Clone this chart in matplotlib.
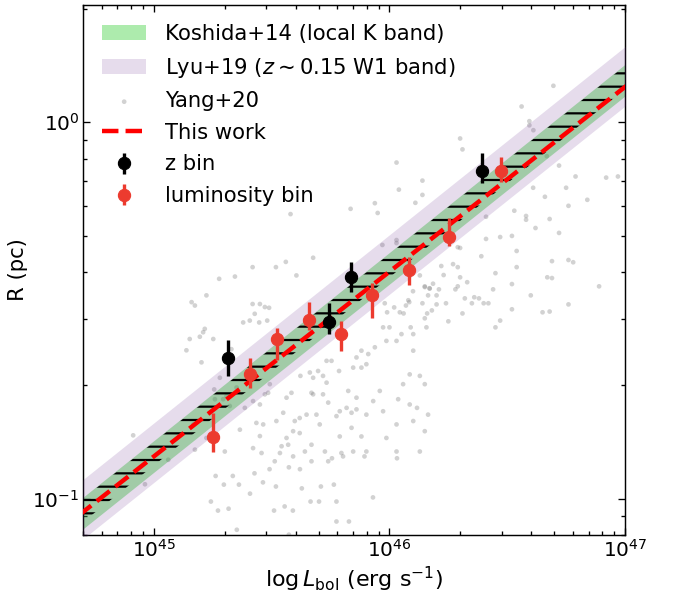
import matplotlib.pyplot as plt
import numpy as np

plt.rcParams['hatch.linewidth'] = 2.0
plt.rcParams['font.size'] = 18

# Yang+20 objects: log L_bol (erg/s), log R (pc)
yang_logL = [46.30, 46.31, 46.03, 46.14, 46.04, 46.14, 46.11, 45.97, 46.03, 46.03,
             46.97, 46.92, 46.79, 46.75, 46.61, 46.84, 46.66, 46.72, 46.53, 46.76,
             46.58, 46.58, 46.68, 46.41, 46.62, 46.72, 46.47, 46.52, 46.41, 46.54,
             46.29, 46.30, 46.39, 46.76, 46.78, 46.69, 46.54, 46.22, 46.27, 46.29,
             46.23, 46.30, 46.45, 46.67, 46.69, 46.33, 46.29, 46.52, 46.89, 46.28,
             46.10, 46.15, 46.17, 46.21, 46.60, 46.44, 46.36, 46.32, 46.35, 46.38,
             46.40, 46.42, 46.24, 46.20, 46.14, 46.08, 46.07, 46.02, 45.98, 45.99,
             46.18, 46.16, 46.15, 46.25, 46.31, 46.47, 46.45, 46.76, 46.68, 46.65,
             46.52, 46.06, 46.09, 46.00,
             45.676, 45.560, 45.605, 45.518, 45.419, 45.344, 45.277, 45.223, 45.160, 45.174,
             45.450, 45.419, 45.489, 45.428, 45.471, 45.379, 45.407, 45.447, 45.481, 45.216,
             45.209, 45.138, 45.152, 45.195, 45.202, 45.252, 45.329, 45.280, 45.256, 45.259,
             45.294, 45.308, 45.351, 45.322, 45.386, 45.421, 45.450, 45.471, 45.485, 45.492,
             45.435, 45.464, 45.520, 45.549, 45.563, 45.584, 45.598, 45.619, 45.648, 45.622,
             45.662, 45.676, 45.697, 45.718, 45.733, 45.754, 45.676, 45.718, 45.669, 45.786,
             45.846, 45.881, 45.902, 45.825, 45.860, 45.959, 46.037, 46.086, 46.117, 46.058,
             46.086, 46.129, 46.150, 46.101, 46.030, 46.051, 46.101, 46.157, 46.044, 46.084,
             46.164, 46.200, 46.150, 46.171, 46.129, 46.185, 45.973, 45.987, 45.938, 45.881,
             45.910, 45.860, 45.733, 45.740, 45.690, 45.775, 45.789, 45.818, 45.839, 45.860,
             45.902, 45.973, 45.931, 45.704, 45.619, 45.591, 45.563, 45.570, 45.542, 45.450,
             45.365, 45.421, 45.457, 45.513, 45.535, 45.591, 45.641, 45.669, 45.669, 45.726,
             45.789, 45.839, 45.881, 45.987, 46.030, 46.101, 46.150, 46.164, 46.129, 46.030,
             45.902, 45.846, 45.796, 45.740, 45.301, 45.266, 45.223, 45.174, 45.167,
             45.262, 45.335, 45.491, 45.573, 45.620, 45.756, 45.803, 45.894, 46.032, 45.297,
             45.361, 45.427, 45.463, 45.408, 45.518, 45.628, 45.709, 45.764, 45.665, 45.701,
             45.775, 45.930, 45.242, 45.272, 45.317, 45.510, 45.555, 45.590, 45.775, 45.828,
             45.352, 45.573,
             44.912, 44.962, 45.061, 46.696, 46.561, 46.594, 46.594, 46.611, 46.668,
             45.580, 45.835, 45.938, 45.950]
yang_logR = [-0.043, -0.072, -0.107, -0.155, -0.179, -0.193, -0.214, -0.326, -0.313, -0.321,
             -0.144, -0.147, -0.144, -0.174, -0.174, -0.206, -0.198, -0.115, -0.235, -0.222,
             -0.249, -0.259, -0.257, -0.251, -0.281, -0.294, -0.305, -0.302, -0.310, -0.342,
             -0.332, -0.334, -0.356, -0.366, -0.372, -0.369, -0.385, -0.382, -0.377, -0.385,
             -0.406, -0.412, -0.401, -0.412, -0.414, -0.425, -0.436, -0.430, -0.436, -0.444,
             -0.449, -0.436, -0.441, -0.444, -0.460, -0.444, -0.465, -0.468, -0.481, -0.468,
             -0.481, -0.481, -0.481, -0.484, -0.481, -0.473, -0.487, -0.492, -0.481, -0.505,
             -0.500, -0.508, -0.521, -0.529, -0.508, -0.527, -0.545, -0.484, -0.503, -0.505,
             -0.497, -0.508, -0.545, -0.545,
             -0.360, -0.371, -0.407, -0.385, -0.385, -0.410, -0.416, -0.460, -0.478, -0.487,
             -0.483, -0.483, -0.493, -0.509, -0.491, -0.532, -0.527, -0.532, -0.527, -0.549,
             -0.558, -0.606, -0.576, -0.570, -0.638, -0.576, -0.603, -0.679, -0.710, -0.736,
             -0.736, -0.728, -0.705, -0.754, -0.759, -0.741, -0.750, -0.723, -0.719, -0.696,
             -0.799, -0.803, -0.794, -0.772, -0.732, -0.719, -0.794, -0.786, -0.777, -0.674,
             -0.665, -0.679, -0.661, -0.674, -0.634, -0.634, -0.723, -0.723, -0.719, -0.661,
             -0.652, -0.652, -0.643, -0.714, -0.732, -0.714, -0.736, -0.750, -0.759, -0.696,
             -0.670, -0.674, -0.696, -0.607, -0.581, -0.563, -0.563, -0.545, -0.505, -0.478,
             -0.460, -0.460, -0.438, -0.442, -0.407, -0.429, -0.545, -0.581, -0.598, -0.607,
             -0.616, -0.625, -0.692, -0.745, -0.777, -0.781, -0.768, -0.759, -0.772, -0.763,
             -0.777, -0.768, -0.741, -0.803, -0.826, -0.821, -0.839, -0.857, -0.861, -0.834,
             -0.817, -0.866, -0.879, -0.901, -0.879, -0.888, -0.875, -0.857, -0.901, -0.875,
             -0.835, -0.812, -0.835, -0.839, -0.803, -0.794, -0.821, -0.777, -0.875, -0.875,
             -0.875, -0.875, -0.879, -0.901, -0.875, -0.839, -0.839, -0.870, -0.803,
             -0.940, -0.940, -0.922, -0.917, -0.922, -0.893, -0.888, -0.888, -0.893, -0.963,
             -0.963, -0.933, -0.957, -0.987, -0.968, -0.973, -0.968, -0.963, -1.008, -1.008,
             -1.008, -0.997, -1.008, -1.032, -1.027, -1.032, -1.021, -1.032, -1.061, -1.061,
             -1.083, -1.096,
             -0.832, -0.962, -0.897, 0.097, 0.042, 0.003, -0.008, -0.021, -0.090,
             -0.244, -0.230, -0.215, -0.241]

# redshift bins
zbin_L = [2.07e45, 5.55e45, 6.84e45, 2.48e46]
zbin_R = [0.237, 0.294, 0.387, 0.741]
zbin_Rlo = [0.212, 0.2745, 0.354, 0.690]
zbin_Rhi = [0.264, 0.330, 0.426, 0.830]

# luminosity bins
lbin_L = [1.79e45, 2.56e45, 3.34e45, 4.56e45, 6.21e45, 8.45e45, 1.21e46, 1.79e46, 2.97e46]
lbin_R = [0.146, 0.214, 0.266, 0.299, 0.273, 0.348, 0.405, 0.497, 0.741]
lbin_Rlo = [0.133, 0.197, 0.233, 0.280, 0.246, 0.301, 0.369, 0.469, 0.692]
lbin_Rhi = [0.169, 0.236, 0.284, 0.333, 0.297, 0.375, 0.439, 0.556, 0.810]

# R-L relations: log R = a + b (log L - 46), with half-width in dex
koshida_a, koshida_b, koshida_w = -0.388, 0.5, 0.042
lyu_a, lyu_b, lyu_w = -0.378, 0.5, 0.079
fit_a, fit_b = -0.397, 0.491
fit_lo_a, fit_hi_a = -0.412, -0.350

logL = np.linspace(44.6, 47.1, 200)
L = 10 ** logL


def rel(a, b):
    return 10 ** (a + b * (logL - 46))


fig = plt.figure(figsize=(673 / 80, 605 / 80), dpi=80)
ax = fig.add_axes([83 / 673, 1 - 535 / 605, 542 / 673, 530 / 605])

# bands: Koshida first, Lyu drawn over it
ax.fill_between(L, rel(koshida_a - koshida_w, koshida_b), rel(koshida_a + koshida_w, koshida_b),
                color='limegreen', alpha=0.4, lw=0, label='Koshida+14 (local K band)', zorder=2)
ax.fill_between(L, rel(lyu_a - lyu_w, lyu_b), rel(lyu_a + lyu_w, lyu_b),
                color='#64288c', alpha=0.16, lw=0, label=r'Lyu+19 ($z\sim0.15$ W1 band)', zorder=3)
ax.scatter(10 ** np.array(yang_logL), 10 ** np.array(yang_logR), s=18,
           color='gray', alpha=0.35, edgecolors='none', label='Yang+20', zorder=1)
ax.fill_between(L, rel(fit_lo_a, 0.5), rel(fit_hi_a, 0.5), facecolor='none',
                edgecolor='k', hatch='-', lw=0, zorder=4)
ax.plot(L, rel(fit_a, fit_b), 'r--', lw=4, label='This work', zorder=5)

zl = np.array(zbin_R)
ax.errorbar(zbin_L, zbin_R, yerr=[zl - np.array(zbin_Rlo), np.array(zbin_Rhi) - zl],
            fmt='o', color='k', ms=11, elinewidth=3, capsize=0, label='z bin', zorder=6)
ll = np.array(lbin_R)
ax.errorbar(lbin_L, lbin_R, yerr=[ll - np.array(lbin_Rlo), np.array(lbin_Rhi) - ll],
            fmt='o', color='#ec3b2f', ms=11, elinewidth=3, capsize=0,
            label='luminosity bin', zorder=6)

ax.set_xscale('log')
ax.set_yscale('log')
ax.set_xlim(5e44, 1e47)
ax.set_ylim(0.08, 2.05)
ax.tick_params(which='both', direction='in', top=True, right=True, width=1.2)
ax.tick_params(which='major', length=6, labelsize=18)
ax.tick_params(which='minor', length=3.5)
for s in ax.spines.values():
    s.set_linewidth(1.3)
ax.set_xlabel(r'$\log L_{\rm bol}$ (erg s$^{-1}$)', fontsize=20)
ax.set_ylabel('R (pc)', fontsize=19)

h, lab = ax.get_legend_handles_labels()
order = ['Koshida+14 (local K band)', r'Lyu+19 ($z\sim0.15$ W1 band)', 'Yang+20',
         'This work', 'z bin', 'luminosity bin']
hd = dict(zip(lab, h))
ax.legend([hd[k] for k in order], order, loc='upper left', frameon=False, fontsize=19,
          handlelength=2.1, handletextpad=0.9, labelspacing=0.55)

fig.savefig('out.png', dpi=80)
